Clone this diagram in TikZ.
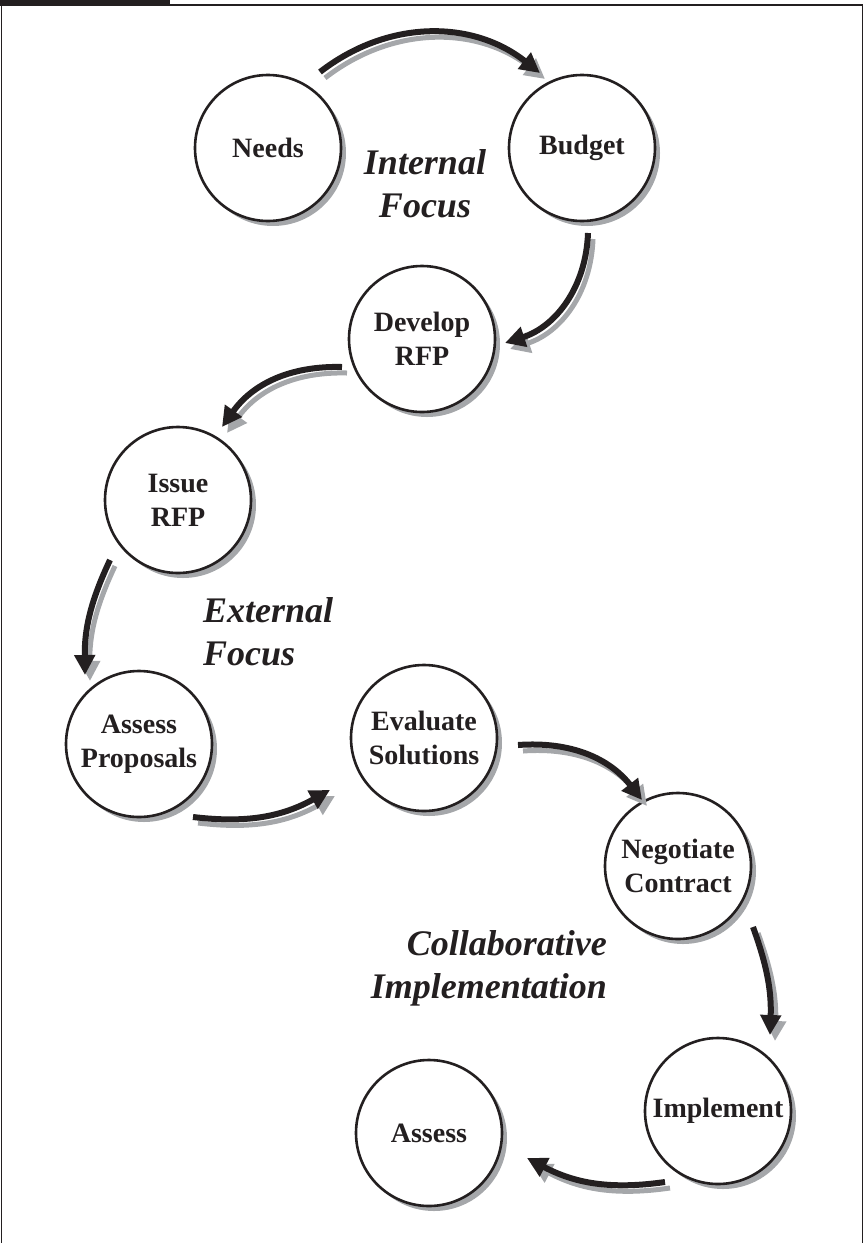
\documentclass[tikz,border=0pt]{standalone}
\usepackage{fontspec}
\setmainfont{Liberation Serif}
\usetikzlibrary{arrows.meta,calc,shadows}
\definecolor{shd}{RGB}{165,167,170}
\definecolor{ink}{RGB}{35,31,32}
\tikzset{
  stage/.style={circle, draw=ink, line width=2.6pt, fill=white, minimum size=146pt,
    inner sep=0pt, align=center, text=ink,
    font=\fontsize{28}{34}\selectfont\bfseries,
    drop shadow={shadow xshift=5pt, shadow yshift=-5pt, fill=shd, opacity=1}},
  phase/.style={text=ink, font=\fontsize{36}{43}\selectfont\bfseries\itshape, inner sep=0pt},
  flow/.style={line width=6pt, draw=ink, -{Triangle[length=20pt,width=20pt]}},
  flowshd/.style={line width=5pt, draw=shd, -{Triangle[length=20pt,width=20pt]},
    transform canvas={shift={(5pt,-6pt)}}},
}
\newcommand\flowarrow[3]{%
  \draw[flowshd] #1 to[#3] #2;
  \draw[flow] #1 to[#3] #2;}
\begin{document}
\begin{tikzpicture}[x=1pt,y=1pt]
\useasboundingbox (0,0) rectangle (865,-1243);
% frame
\fill[ink] (0,0) rectangle (170,-5.5);
\draw[ink, line width=1.8pt] (1.5,-1243) -- (1.5,-5) -- (862.5,-5) -- (862.5,-1243);
% stages
\node[stage] (needs) at (268,-148) {Needs};
\node[stage] (budget) at (582,-148) {Budget};
\node[stage] (develop) at (422,-339) {Develop\\RFP};
\node[stage] (issue) at (178,-500) {Issue\\RFP};
\node[stage] (proposals) at (139,-744) {Assess\\Proposals};
\node[stage] (evaluate) at (424,-738) {Evaluate\\Solutions};
\node[stage] (negotiate) at (678,-866) {Negotiate\\Contract};
\node[stage] (implement) at (718,-1111) {Implement};
\node[stage] (assess) at (429,-1133) {Assess};
% phase labels
\node[phase, align=center] (internal) at (425,-184) {Internal\\Focus};
\node[phase, align=left, anchor=west] (external) at (203,-632) {External\\Focus};
\node[phase, align=right, anchor=east] (collab) at (607,-968) {Collaborative\\Implementation};
% arrows
\flowarrow{($(needs)+(52,76)$)}{($(budget)+(-42,75)$)}{bend left=38}
\flowarrow{($(budget)+(6,-85)$)}{($(develop)+(83,-4)$)}{bend left=35}
\flowarrow{($(develop)+(-80,-28)$)}{($(issue)+(44,73)$)}{bend right=28}
\flowarrow{($(issue)+(-68,-60)$)}{($(proposals)+(-54,69)$)}{bend right=13}
\flowarrow{($(proposals)+(54,-73)$)}{($(evaluate)+(-94,-52)$)}{bend right=18}
\flowarrow{($(evaluate)+(94,-7)$)}{($(negotiate)+(-36,66)$)}{bend left=28}
\flowarrow{($(negotiate)+(75,-61)$)}{($(implement)+(52,76)$)}{bend left=11}
\flowarrow{($(implement)+(-53,-71)$)}{($(assess)+(98,-25)$)}{bend left=18}
\end{tikzpicture}
\end{document}
